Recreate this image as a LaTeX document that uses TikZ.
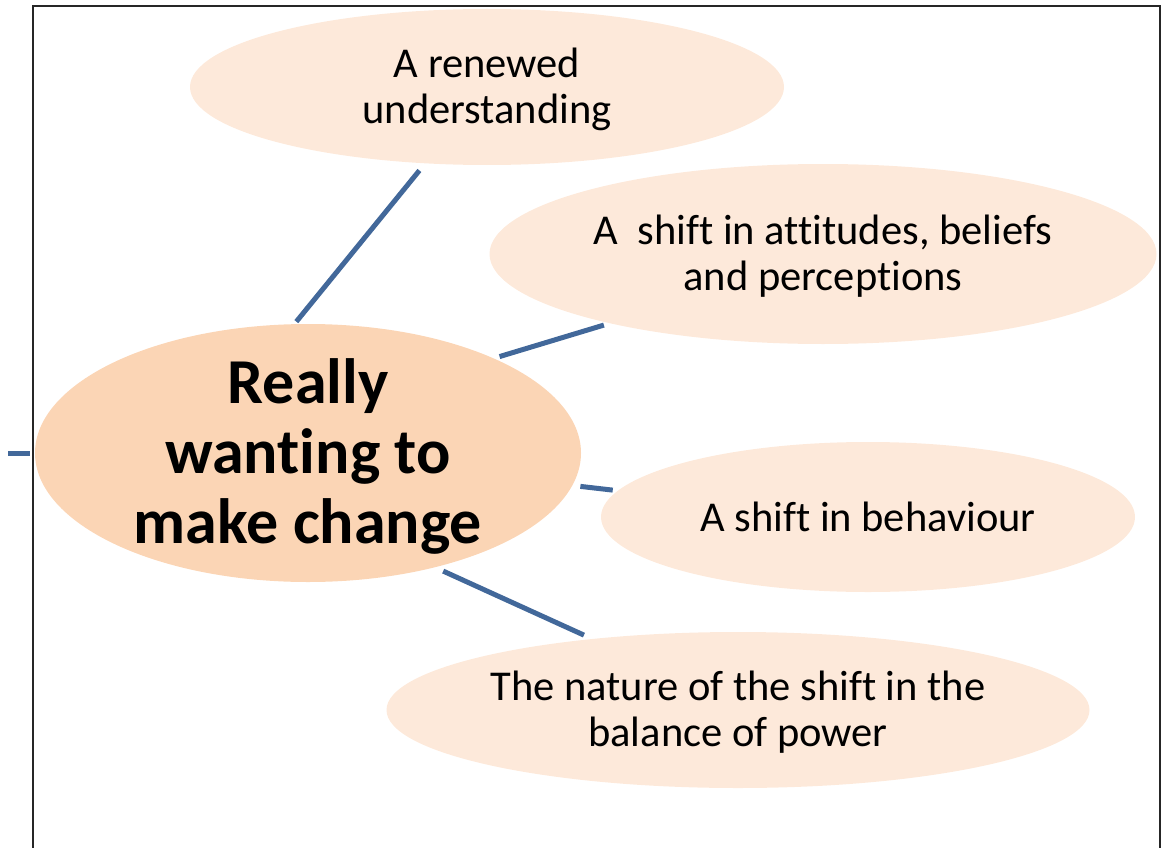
\documentclass[tikz,border=0pt]{standalone}
\usepackage{fontspec}
\setmainfont{Carlito}[Ligatures=NoCommon]
\usetikzlibrary{shapes.geometric}
\definecolor{peach}{RGB}{253,233,218}
\definecolor{deeppeach}{RGB}{251,213,181}
\definecolor{linkblue}{RGB}{66,104,154}

\begin{document}
\begin{tikzpicture}[x=1pt,y=-1pt,
    bubble/.style={ellipse,fill=peach,inner sep=0pt},
    txt/.style={align=center,font=\fontsize{42.5}{46}\selectfont},
    link/.style={draw=linkblue,line width=5pt}]
            \useasboundingbox (0,0) rectangle (1164,848);
            \clip (0,0) rectangle (1164,848);
            % frame
            \draw[line width=2pt,black!85] (33,870)--(33,6.5)--(1160,6.5)--(1160,870);
            % ellipses
            \node[bubble,fill=deeppeach,minimum width=546,minimum height=258] (main) at (308,453) {};
            \node[bubble,minimum width=594,minimum height=156] (renew) at (487,87) {};
            \node[bubble,minimum width=667,minimum height=180] (attit) at (823,254) {};
            \node[bubble,minimum width=534,minimum height=150] (behav) at (868,517) {};
            \node[bubble,minimum width=703,minimum height=156] (power) at (738,710) {};
            % texts
            \node[txt,font=\fontsize{64}{70}\selectfont\bfseries] (maintxt) at ([yshift=-3]main) {Really\\wanting to\\make change};
            \node[txt] (renewtxt) at ([yshift=-2]renew) {A renewed\\understanding};
            \node[txt] (attittxt) at ([yshift=-2]attit) {A\ \ shift in attitudes, beliefs\\and perceptions};
            \node[txt] (behavtxt) at (behav) {A shift in behaviour};
            \node[txt] (powertxt) at ([yshift=-2]power) {The nature of the shift in the\\balance of power};
            % connectors
            \coordinate (stub) at (8,453);
            \draw[link,shorten >=5pt] (stub)--(main.west);
            \draw[link,shorten <=3pt,shorten >=9pt] (main.96.5)--(renew.-129.1);
            \draw[link,shorten <=6pt,shorten >=6pt] (main.27.4)--(attit.-162.7);
            \draw[link,shorten <=8pt,shorten >=5pt] (main.-7.6)--(behav.174.7);
            \draw[link,shorten <=9pt,shorten >=9pt] (main.-42.3)--(power.154.9);
        \end{tikzpicture}
\end{document}
